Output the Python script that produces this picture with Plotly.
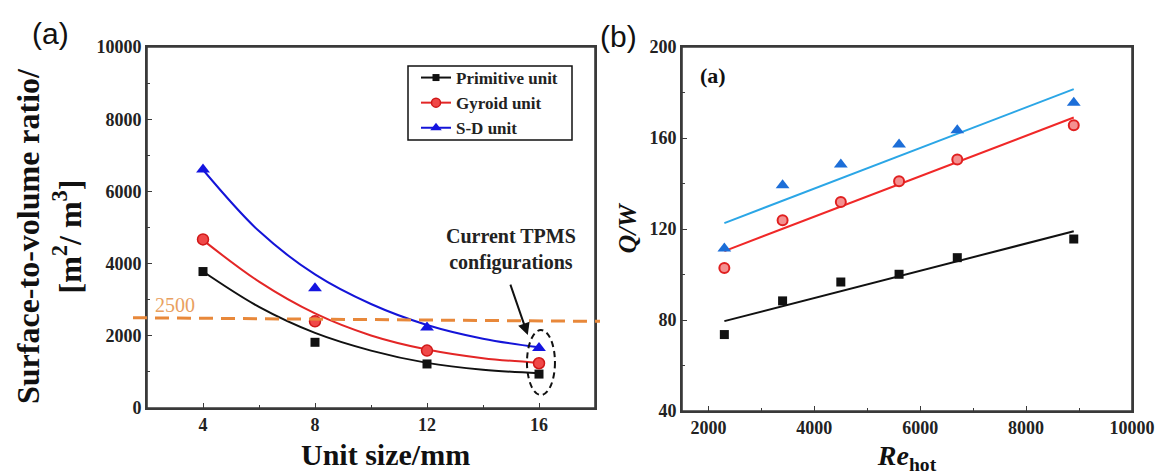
import plotly.graph_objects as go

W, H = 1162, 475

# ---------------- data: panel (a) ----------------
unit_size = [4, 8, 12, 16]
primitive = [3780, 1820, 1220, 940]
gyroid = [4670, 2400, 1590, 1240]
sd_unit = [6610, 3320, 2230, 1660]

# fitted curves
fit_x = [4, 6, 8, 10, 12, 14, 16]
fit_primitive = [3780, 2800, 2080, 1590, 1250, 1060, 960]
fit_gyroid = [4650, 3500, 2620, 2010, 1620, 1380, 1250]
fit_sd = [6600, 4900, 3700, 2880, 2300, 1920, 1680]

threshold_left = 2500
threshold_right = 2400
threshold_label = "2500"

xa_ticks = [4, 8, 12, 16]
ya_ticks = [0, 2000, 4000, 6000, 8000, 10000]

# ---------------- data: panel (b) ----------------
re_hot = [2300, 3400, 4500, 5600, 6700, 8900]
qw_black = [73.6, 88.4, 96.7, 100.1, 107.4, 115.6]
qw_red = [102.9, 123.8, 131.9, 141.0, 150.6, 165.6]
qw_blue = [111.4, 139.2, 148.3, 157.1, 163.4, 175.5]

line_x = [2300, 8900]
line_black = [79.5, 119.0]
line_red = [110.3, 169.0]
line_blue = [122.6, 181.5]

xb_ticks = [2000, 4000, 6000, 8000, 10000]
yb_ticks = [40, 80, 120, 160, 200]

SERIF = "Liberation Serif"
AXC = "#3a3a3a"

fig = go.Figure()

# ---- panel (a) curves
cols_a = {"Primitive unit": "#111111", "Gyroid unit": "#E32626", "S-D unit": "#1414D8"}
for name, fy in [("Primitive unit", fit_primitive), ("Gyroid unit", fit_gyroid), ("S-D unit", fit_sd)]:
    fig.add_trace(go.Scatter(x=fit_x, y=fy, mode="lines", line=dict(color=cols_a[name], width=2, shape="spline"),
                             showlegend=False, xaxis="x", yaxis="y", hoverinfo="skip"))

marker_a = {
    "Primitive unit": dict(symbol="square", size=9, color="#111111"),
    "Gyroid unit": dict(symbol="circle", size=11, color="#F04848", line=dict(color="#D01818", width=1.5)),
    "S-D unit": dict(symbol="triangle-up", size=12, color="#1414E0"),
}
for name, vals in [("Primitive unit", primitive), ("Gyroid unit", gyroid), ("S-D unit", sd_unit)]:
    fig.add_trace(go.Scatter(x=unit_size, y=vals, mode="markers", marker=marker_a[name],
                             showlegend=False, xaxis="x", yaxis="y"))
# legend entries
for name in ["Primitive unit", "Gyroid unit", "S-D unit"]:
    m = dict(marker_a[name])
    m["size"] = m["size"] - 2
    fig.add_trace(go.Scatter(x=[None], y=[None], mode="lines+markers", name="<b>%s</b>" % name,
                             line=dict(color=cols_a[name], width=2), marker=m, xaxis="x", yaxis="y"))

# ---- panel (b)
fig.add_trace(go.Scatter(x=line_x, y=line_black, mode="lines", line=dict(color="#111111", width=2),
                         showlegend=False, xaxis="x2", yaxis="y2"))
fig.add_trace(go.Scatter(x=line_x, y=line_red, mode="lines", line=dict(color="#F02828", width=2),
                         showlegend=False, xaxis="x2", yaxis="y2"))
fig.add_trace(go.Scatter(x=line_x, y=line_blue, mode="lines", line=dict(color="#2BA6E6", width=2),
                         showlegend=False, xaxis="x2", yaxis="y2"))
fig.add_trace(go.Scatter(x=re_hot, y=qw_black, mode="markers", marker=dict(symbol="square", size=9, color="#111111"),
                         showlegend=False, xaxis="x2", yaxis="y2"))
fig.add_trace(go.Scatter(x=re_hot, y=qw_red, mode="markers",
                         marker=dict(symbol="circle", size=10, color="#F49090", line=dict(color="#E02020", width=2)),
                         showlegend=False, xaxis="x2", yaxis="y2"))
fig.add_trace(go.Scatter(x=re_hot, y=qw_blue, mode="markers",
                         marker=dict(symbol="triangle-up", size=12, color="#1C6ED8"),
                         showlegend=False, xaxis="x2", yaxis="y2"))

tickfont = dict(family=SERIF, size=18, color="#222222")
common = dict(showline=True, mirror=True, linecolor=AXC, linewidth=1.6, ticks="inside", ticklen=5,
              tickcolor=AXC, tickwidth=1.4, showgrid=False, zeroline=False, tickfont=tickfont, automargin=False)


def bold(vals):
    return ["<b>%d</b>" % v for v in vals]


XA = [147 / W, 595 / W]
YA = [1 - 408 / H, 1 - 47 / H]
XB = [682 / W, 1132 / W]
YB = [1 - 411 / H, 1 - 47 / H]

fig.update_layout(
    width=W, height=H, margin=dict(l=0, r=0, t=0, b=0),
    paper_bgcolor="white", plot_bgcolor="white",
    xaxis=dict(domain=XA, range=[2, 18], tickvals=xa_ticks, ticktext=bold(xa_ticks), anchor="y",
               minor=dict(tickvals=[6, 10, 14], ticks="inside", ticklen=3, tickcolor=AXC),
               **common),
    yaxis=dict(domain=YA, range=[0, 10000], tickvals=ya_ticks, ticktext=bold(ya_ticks), anchor="x",
               minor=dict(tickvals=[1000, 3000, 5000, 7000, 9000], ticks="inside", ticklen=3, tickcolor=AXC),
               **common),
    xaxis2=dict(domain=XB, range=[1500, 10000], tickvals=xb_ticks, ticktext=bold(xb_ticks), anchor="y2",
                minor=dict(tickvals=[3000, 5000, 7000, 9000], ticks="inside", ticklen=3, tickcolor=AXC),
                title=dict(text="<b><i>Re</i><sub>hot</sub></b>", font=dict(family=SERIF, size=28, color="#111111"), standoff=15),
                **common),
    yaxis2=dict(domain=YB, range=[40, 200], tickvals=yb_ticks, ticktext=bold(yb_ticks), anchor="x2",
                minor=dict(tickvals=[60, 100, 140, 180], ticks="inside", ticklen=3, tickcolor=AXC),
                title=dict(text="<b><i>Q/W</i></b>", font=dict(family=SERIF, size=26, color="#111111"), standoff=5),
                **common),
    legend=dict(x=416 / W, y=1 - 60 / H, xanchor="left", yanchor="top", bgcolor="rgba(0,0,0,0)",
                borderwidth=0,
                font=dict(family=SERIF, size=17, color="#222222"), tracegroupgap=0),
)

# left axis titles
fig.add_annotation(x=49 / W, y=1 - 236 / H, xref="paper", yref="paper", textangle=-90,
                   text="<b>Surface-to-volume ratio/<br>[m<sup>2</sup>/ m<sup>3</sup>]</b>", showarrow=False,
                   xanchor="center", yanchor="middle",
                   font=dict(family=SERIF, size=32, color="#111111"))
fig.add_annotation(x=385 / W, y=1 - 454 / H, xref="paper", yref="paper",
                   text="<b>Unit size/mm</b>", showarrow=False, xanchor="center", yanchor="middle",
                   font=dict(family=SERIF, size=30, color="#111111"))

# legend box
fig.add_shape(type="rect", xref="paper", yref="paper", x0=408 / W, x1=572 / W, y0=1 - 140 / H, y1=1 - 66 / H,
              line=dict(color="#111111", width=1.5), fillcolor="rgba(0,0,0,0)", layer="above")

# plot frames
for xr, yr in [("x domain", "y domain"), ("x2 domain", "y2 domain")]:
    fig.add_shape(type="rect", xref=xr, yref=yr, x0=0, x1=1, y0=0, y1=1,
                  line=dict(color=AXC, width=1.6), layer="above")

# threshold dashed line (extends beyond the frame)
fig.add_shape(type="line", xref="paper", yref="y domain",
              x0=133 / W, x1=600 / W, y0=threshold_left / 10000, y1=threshold_right / 10000,
              line=dict(color="#E8883A", width=3, dash="14px,8px"), layer="above")
fig.add_annotation(x=3.0, y=2850, xref="x", yref="y", text=threshold_label, showarrow=False,
                   font=dict(family=SERIF, size=20, color="#E9A060"))

# highlighted ellipse around unit size 16
fig.add_shape(type="circle", xref="x", yref="y", x0=15.57, x1=16.57, y0=360, y1=2160,
              line=dict(color="#111111", width=2, dash="6px,4px"))
fig.add_annotation(x=15.6, y=2020, xref="x", yref="y", ax=14.96, ay=3460, axref="x", ayref="y",
                   text="", showarrow=True, arrowhead=2, arrowsize=1.2, arrowwidth=2, arrowcolor="#111111")
fig.add_annotation(x=15.0, y=4400, xref="x", yref="y", text="<b>Current TPMS<br>configurations</b>", showarrow=False,
                   font=dict(family=SERIF, size=20, color="#222222"))

# panel labels
fig.add_annotation(x=50 / W, y=1 - 33 / H, xref="paper", yref="paper", text="(a)", showarrow=False,
                   xanchor="center", yanchor="middle",
                   font=dict(family="Liberation Sans", size=30, color="#111111"))
fig.add_annotation(x=619 / W, y=1 - 37 / H, xref="paper", yref="paper", text="(b)", showarrow=False,
                   xanchor="center", yanchor="middle",
                   font=dict(family="Liberation Sans", size=30, color="#111111"))
fig.add_annotation(x=713 / W, y=1 - 75 / H, xref="paper", yref="paper", text="<b>(a)</b>", showarrow=False,
                   xanchor="center", yanchor="middle",
                   font=dict(family=SERIF, size=22, color="#111111"))

fig.write_html("out.html", config={"displayModeBar": False},
               post_script="document.body.style.margin='0';document.body.style.padding='0';")
